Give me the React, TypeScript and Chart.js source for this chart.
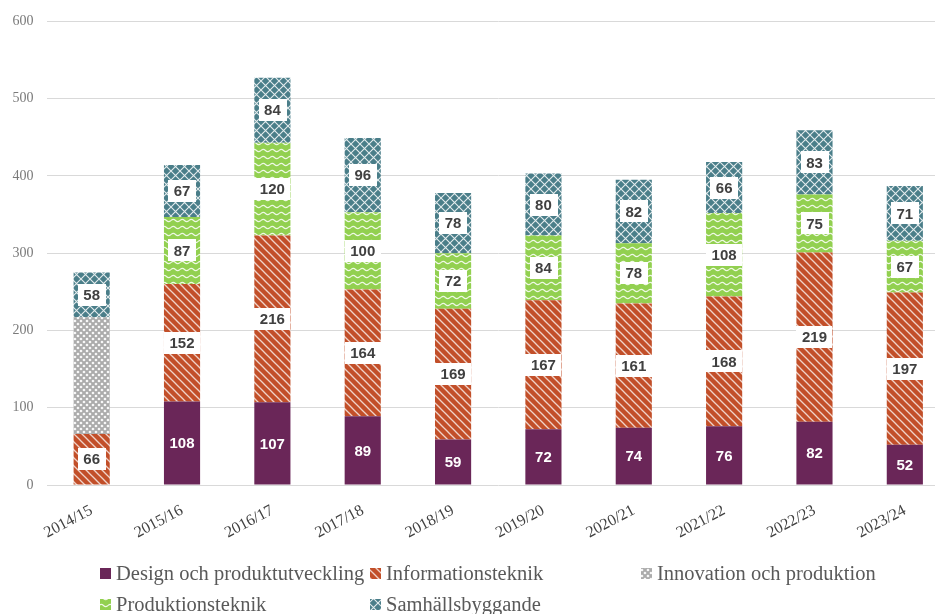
import React, { useEffect, useRef } from "react";
import { Chart, registerables } from "chart.js";

Chart.register(...registerables);

const categories = ["2014/15", "2015/16", "2016/17", "2017/18", "2018/19", "2019/20", "2020/21", "2021/22", "2022/23", "2023/24"];
const design = [0, 108, 107, 89, 59, 72, 74, 76, 82, 52];
const informationsteknik = [66, 152, 216, 164, 169, 167, 161, 168, 219, 197];
const innovation = [151, 0, 0, 0, 0, 0, 0, 0, 0, 0];
const produktionsteknik = [0, 87, 120, 100, 72, 84, 78, 108, 75, 67];
const samhallsbyggande = [58, 67, 84, 96, 78, 80, 82, 66, 83, 71];
const yTicks = [0, 100, 200, 300, 400, 500, 600];

function makeTile(w: number, h: number, draw: (c: CanvasRenderingContext2D) => void) {
  const cv = document.createElement("canvas");
  cv.width = w;
  cv.height = h;
  const c = cv.getContext("2d")!;
  draw(c);
  return cv;
}

export default function App() {
  const ref = useRef<HTMLCanvasElement>(null);
  useEffect(() => {
    const canvas = ref.current!;
    const ctx = canvas.getContext("2d")!;

    const infoTile = makeTile(8, 8, (c) => {
      c.fillStyle = "#C24F29";
      c.fillRect(0, 0, 8, 8);
      c.strokeStyle = "rgba(255,255,255,0.75)";
      c.lineWidth = 1.3;
      for (const o of [-8, 0, 8]) {
        c.beginPath();
        c.moveTo(o - 1, -1);
        c.lineTo(o + 9, 9);
        c.stroke();
      }
    });
    const innoTile = makeTile(6, 6, (c) => {
      c.fillStyle = "#ABABAB";
      c.fillRect(0, 0, 6, 6);
      c.fillStyle = "#FFFFFF";
      const dia = (x: number, y: number) => {
        c.beginPath();
        c.moveTo(x, y - 1.6);
        c.lineTo(x + 1.6, y);
        c.lineTo(x, y + 1.6);
        c.lineTo(x - 1.6, y);
        c.closePath();
        c.fill();
      };
      dia(3, 3);
      dia(0, 0);
      dia(6, 0);
      dia(0, 6);
      dia(6, 6);
    });
    const prodTile = makeTile(9, 7, (c) => {
      c.fillStyle = "#92D050";
      c.fillRect(0, 0, 9, 7);
      c.strokeStyle = "rgba(255,255,255,0.85)";
      c.lineWidth = 1.2;
      c.beginPath();
      c.moveTo(0, 3.5);
      c.quadraticCurveTo(2.25, 1.2, 4.5, 3.5);
      c.quadraticCurveTo(6.75, 5.8, 9, 3.5);
      c.stroke();
    });
    const samTile = makeTile(9, 9, (c) => {
      c.fillStyle = "#4A7E89";
      c.fillRect(0, 0, 9, 9);
      c.strokeStyle = "rgba(255,255,255,0.85)";
      c.lineWidth = 1.1;
      c.beginPath();
      c.moveTo(0, 0);
      c.lineTo(9, 9);
      c.moveTo(9, 0);
      c.lineTo(0, 9);
      c.stroke();
    });

    const infoPat = ctx.createPattern(infoTile, "repeat")!;
    const innoPat = ctx.createPattern(innoTile, "repeat")!;
    const prodPat = ctx.createPattern(prodTile, "repeat")!;
    const samPat = ctx.createPattern(samTile, "repeat")!;

    const seriesStyle = [
      { label: "Design och produktutveckling", data: design, fill: "#6A2658" as any, labelMode: "white" },
      { label: "Informationsteknik", data: informationsteknik, fill: infoPat, labelMode: "box" },
      { label: "Innovation och produktion", data: innovation, fill: innoPat, labelMode: "none" },
      { label: "Produktionsteknik", data: produktionsteknik, fill: prodPat, labelMode: "box" },
      { label: "Samhällsbyggande", data: samhallsbyggande, fill: samPat, labelMode: "box" },
    ];

    const labelPlugin = {
      id: "barLabels",
      afterDatasetsDraw(chart: any) {
        const c = chart.ctx;
        c.save();
        c.font = "bold 15px 'Liberation Sans', Arial, sans-serif";
        c.textAlign = "center";
        c.textBaseline = "middle";
        chart.data.datasets.forEach((ds: any, i: number) => {
          const mode = seriesStyle[i].labelMode;
          if (mode === "none") return;
          const meta = chart.getDatasetMeta(i);
          meta.data.forEach((el: any, j: number) => {
            const v = ds.data[j];
            if (!v) return;
            const x = el.x;
            const y = (el.y + el.base) / 2;
            const txt = String(v);
            if (mode === "box") {
              const tw = c.measureText(txt).width;
              const w = tw + 11;
              const h = 22;
              c.fillStyle = "#FFFFFF";
              c.fillRect(Math.round(x - w / 2), Math.round(y - h / 2), Math.round(w), h);
              c.fillStyle = "#404040";
            } else {
              c.fillStyle = "#FFFFFF";
            }
            c.fillText(txt, x, y + 1);
          });
        });
        c.restore();
      },
    };

    const legendPlugin = {
      id: "customLegend",
      afterDraw(chart: any) {
        const c = chart.ctx;
        const pos = [
          [100, 574],
          [370, 574],
          [641, 574],
          [100, 605],
          [370, 605],
        ];
        c.save();
        c.font = "20.5px 'Liberation Serif', 'Times New Roman', serif";
        c.textBaseline = "middle";
        c.textAlign = "left";
        seriesStyle.forEach((s, i) => {
          const [x, y] = pos[i];
          c.fillStyle = s.fill;
          c.fillRect(x, y - 6, 11, 11);
          c.fillStyle = "#595959";
          c.fillText(s.label, x + 16, y + 1);
        });
        c.restore();
      },
    };

    const chart = new Chart(ctx, {
      type: "bar",
      data: {
        labels: categories,
        datasets: seriesStyle.map((s) => ({
          label: s.label,
          data: s.data,
          backgroundColor: s.fill,
          borderWidth: 0,
          categoryPercentage: 1,
          barPercentage: 0.4,
        })),
      },
      options: {
        responsive: false,
        devicePixelRatio: 1,
        animation: false,
        layout: { padding: { top: 21, left: 0, right: 0, bottom: 0 } },
        plugins: {
          legend: { display: false },
          tooltip: { enabled: false },
          title: { display: false },
        },
        scales: {
          x: {
            stacked: true,
            grid: { display: false, drawTicks: false },
            border: { display: false },
            ticks: {
              color: "#404040",
              font: { family: "'Liberation Serif', 'Times New Roman', serif", size: 16 },
              minRotation: 28,
              maxRotation: 28,
              padding: 16,
              autoSkip: false,
            },
            afterFit: (scale: any) => {
              scale.height = 129;
            },
          },
          y: {
            stacked: true,
            min: 0,
            max: 600,
            afterBuildTicks: (scale: any) => {
              scale.ticks = yTicks.map((v) => ({ value: v }));
            },
            grid: { color: "#D9D9D9", lineWidth: 1, drawTicks: false },
            border: { display: false },
            ticks: {
              color: "#7A7A7A",
              font: { family: "'Liberation Serif', 'Times New Roman', serif", size: 14 },
              padding: 13,
            },
            afterFit: (scale: any) => {
              scale.width = 46.5;
            },
          },
        },
      },
      plugins: [labelPlugin, legendPlugin],
    });
    return () => chart.destroy();
  }, []);

  return (
    <div
      style={{
        position: "fixed",
        left: 0,
        top: 0,
        width: 935,
        height: 614,
        overflow: "hidden",
        background: "#FFFFFF",
      }}
    >
      <canvas ref={ref} width={950} height={614} style={{ display: "block" }} />
    </div>
  );
}
